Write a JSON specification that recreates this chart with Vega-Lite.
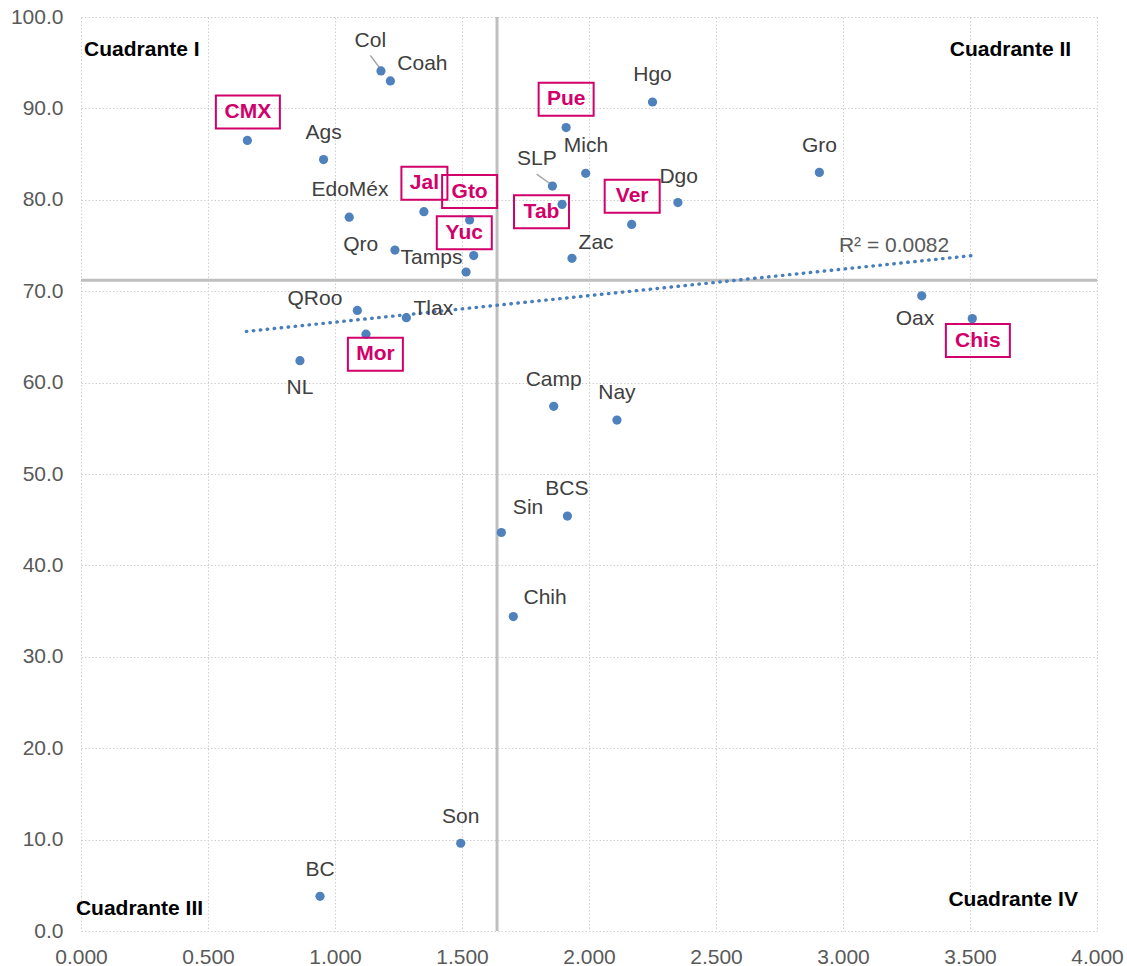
{
 "$schema": "https://vega.github.io/schema/vega-lite/v6.json",
 "width": 1016,
 "height": 914,
 "autosize": {"type": "none"},
 "padding": {"left": 81, "top": 17, "right": 30, "bottom": 35},
 "background": "white",
 "config": {
  "view": {"stroke": null},
  "font": "Liberation Sans",
  "axis": {"grid": true, "gridColor": "#CFCFCF", "gridDash": [1.5, 2], "gridWidth": 1, "domain": false, "ticks": false, "labelFont": "Liberation Sans", "labelFontSize": 21, "labelColor": "#595959", "title": null, "labelFlush": false, "labelOverlap": false, "labelBound": false}
 },
 "datasets": {
  "estados": [
   {"name": "CMX", "x": 0.655, "y": 86.5, "lx": 0.657, "ly": 89.6, "destacado": true},
   {"name": "Ags", "x": 0.955, "y": 84.4, "lx": 0.955, "ly": 87.3, "destacado": false},
   {"name": "Col", "x": 1.181, "y": 94.1, "lx": 1.139, "ly": 97.4, "destacado": false},
   {"name": "Coah", "x": 1.218, "y": 93.0, "lx": 1.344, "ly": 94.9, "destacado": false},
   {"name": "EdoMéx", "x": 1.056, "y": 78.1, "lx": 1.059, "ly": 81.1, "destacado": false},
   {"name": "Jal", "x": 1.350, "y": 78.7, "lx": 1.352, "ly": 81.8, "destacado": true},
   {"name": "Gto", "x": 1.530, "y": 77.8, "lx": 1.530, "ly": 80.9, "destacado": true},
   {"name": "Qro", "x": 1.236, "y": 74.5, "lx": 1.101, "ly": 75.1, "destacado": false},
   {"name": "Yuc", "x": 1.546, "y": 73.9, "lx": 1.509, "ly": 76.4, "destacado": true},
   {"name": "Tamps", "x": 1.516, "y": 72.1, "lx": 1.380, "ly": 73.6, "destacado": false},
   {"name": "QRoo", "x": 1.088, "y": 67.9, "lx": 0.921, "ly": 69.1, "destacado": false},
   {"name": "Tlax", "x": 1.281, "y": 67.1, "lx": 1.387, "ly": 68.1, "destacado": false},
   {"name": "Mor", "x": 1.122, "y": 65.3, "lx": 1.159, "ly": 63.1, "destacado": true},
   {"name": "NL", "x": 0.862, "y": 62.4, "lx": 0.862, "ly": 59.4, "destacado": false},
   {"name": "SLP", "x": 1.856, "y": 81.5, "lx": 1.795, "ly": 84.5, "destacado": false},
   {"name": "Pue", "x": 1.910, "y": 87.9, "lx": 1.910, "ly": 91.0, "destacado": true},
   {"name": "Hgo", "x": 2.250, "y": 90.7, "lx": 2.250, "ly": 93.6, "destacado": false},
   {"name": "Mich", "x": 1.987, "y": 82.9, "lx": 1.988, "ly": 85.9, "destacado": false},
   {"name": "Tab", "x": 1.894, "y": 79.5, "lx": 1.813, "ly": 78.7, "destacado": true},
   {"name": "Ver", "x": 2.168, "y": 77.3, "lx": 2.170, "ly": 80.4, "destacado": true},
   {"name": "Dgo", "x": 2.350, "y": 79.7, "lx": 2.353, "ly": 82.5, "destacado": false},
   {"name": "Zac", "x": 1.933, "y": 73.6, "lx": 2.028, "ly": 75.3, "destacado": false},
   {"name": "Gro", "x": 2.907, "y": 83.0, "lx": 2.907, "ly": 85.9, "destacado": false},
   {"name": "Oax", "x": 3.310, "y": 69.5, "lx": 3.283, "ly": 67.0, "destacado": false},
   {"name": "Chis", "x": 3.509, "y": 67.0, "lx": 3.531, "ly": 64.6, "destacado": true},
   {"name": "Camp", "x": 1.861, "y": 57.4, "lx": 1.861, "ly": 60.3, "destacado": false},
   {"name": "Nay", "x": 2.110, "y": 55.9, "lx": 2.110, "ly": 58.9, "destacado": false},
   {"name": "BCS", "x": 1.915, "y": 45.4, "lx": 1.913, "ly": 48.4, "destacado": false},
   {"name": "Sin", "x": 1.655, "y": 43.6, "lx": 1.760, "ly": 46.3, "destacado": false},
   {"name": "Chih", "x": 1.702, "y": 34.4, "lx": 1.827, "ly": 36.4, "destacado": false},
   {"name": "Son", "x": 1.495, "y": 9.6, "lx": 1.495, "ly": 12.5, "destacado": false},
   {"name": "BC", "x": 0.941, "y": 3.8, "lx": 0.941, "ly": 6.7, "destacado": false}
  ],
  "tendencia": [
   {"x": 0.651, "y": 65.6},
   {"x": 3.509, "y": 73.9}
  ],
  "guias": [
   {"name": "Col", "x": 1.139, "y": 95.8, "x2": 1.174, "y2": 94.5},
   {"name": "SLP", "x": 1.794, "y": 82.8, "x2": 1.850, "y2": 81.7}
  ],
  "cuadrantes_izq": [
   {"texto": "Cuadrante I", "x": 0.012, "y": 96.4},
   {"texto": "Cuadrante III", "x": -0.020, "y": 2.4}
  ],
  "cuadrantes_der": [
   {"texto": "Cuadrante II", "x": 3.898, "y": 96.4},
   {"texto": "Cuadrante IV", "x": 3.925, "y": 3.4}
  ],
  "r2": [
   {"texto": "R² = 0.0082", "x": 3.201, "y": 74.9}
  ],
  "divisiones": [
   {"xdiv": 1.638, "ydiv": 71.2}
  ]
 },
 "layer": [
  {
   "data": {"name": "divisiones"},
   "mark": {"type": "rule", "color": "#BFBFBF", "strokeWidth": 3},
   "encoding": {"x": {"field": "xdiv", "type": "quantitative"}}
  },
  {
   "data": {"name": "divisiones"},
   "mark": {"type": "rule", "color": "#BFBFBF", "strokeWidth": 3},
   "encoding": {"y": {"field": "ydiv", "type": "quantitative"}}
  },
  {
   "data": {"name": "tendencia"},
   "mark": {"type": "line", "color": "#4A7EBB", "strokeWidth": 3.4, "strokeDash": [0.5, 6.5], "strokeCap": "round"},
   "encoding": {
    "x": {"field": "x", "type": "quantitative"},
    "y": {"field": "y", "type": "quantitative"}
   }
  },
  {
   "data": {"name": "guias"},
   "mark": {"type": "rule", "color": "#A6A6A6", "strokeWidth": 1.5},
   "encoding": {
    "x": {"field": "x", "type": "quantitative"},
    "y": {"field": "y", "type": "quantitative"},
    "x2": {"field": "x2"},
    "y2": {"field": "y2"}
   }
  },
  {
   "data": {"name": "estados"},
   "mark": {"type": "circle", "color": "#4F81BD", "opacity": 1, "size": 85},
   "encoding": {
    "x": {"field": "x", "type": "quantitative", "scale": {"domain": [0, 4], "nice": false, "zero": false}, "axis": {"values": [0, 0.5, 1, 1.5, 2, 2.5, 3, 3.5, 4], "format": ".3f", "labelPadding": 15}},
    "y": {"field": "y", "type": "quantitative", "scale": {"domain": [0, 100], "nice": false, "zero": false}, "axis": {"values": [0, 10, 20, 30, 40, 50, 60, 70, 80, 90, 100], "format": ".1f", "labelPadding": 18}}
   }
  },
  {
   "data": {"name": "estados"},
   "transform": [{"filter": "!datum.destacado"}],
   "mark": {"type": "text", "fontSize": 21, "color": "#404040", "align": "center", "baseline": "middle"},
   "encoding": {
    "x": {"field": "lx", "type": "quantitative"},
    "y": {"field": "ly", "type": "quantitative"},
    "text": {"field": "name"}
   }
  },
  {
   "data": {"name": "estados"},
   "transform": [{"filter": "indexof(['CMX','Chis'], datum.name) >= 0"}],
   "mark": {"type": "point", "shape": "M-32,-16.5H32V16.5H-32Z", "size": 4, "filled": false, "stroke": "#D2006B", "strokeWidth": 2, "opacity": 1},
   "encoding": {
    "x": {"field": "lx", "type": "quantitative"},
    "y": {"field": "ly", "type": "quantitative"}
   }
  },
  {
   "data": {"name": "estados"},
   "transform": [{"filter": "indexof(['Gto','Yuc','Mor','Tab','Pue','Ver'], datum.name) >= 0"}],
   "mark": {"type": "point", "shape": "M-27.5,-16.5H27.5V16.5H-27.5Z", "size": 4, "filled": false, "stroke": "#D2006B", "strokeWidth": 2, "opacity": 1},
   "encoding": {
    "x": {"field": "lx", "type": "quantitative"},
    "y": {"field": "ly", "type": "quantitative"}
   }
  },
  {
   "data": {"name": "estados"},
   "transform": [{"filter": "datum.name == 'Jal'"}],
   "mark": {"type": "point", "shape": "M-23,-16.5H23V16.5H-23Z", "size": 4, "filled": false, "stroke": "#D2006B", "strokeWidth": 2, "opacity": 1},
   "encoding": {
    "x": {"field": "lx", "type": "quantitative"},
    "y": {"field": "ly", "type": "quantitative"}
   }
  },
  {
   "data": {"name": "estados"},
   "transform": [{"filter": "datum.destacado"}],
   "mark": {"type": "text", "fontSize": 21, "fontWeight": "bold", "color": "#D2006B", "align": "center", "baseline": "middle"},
   "encoding": {
    "x": {"field": "lx", "type": "quantitative"},
    "y": {"field": "ly", "type": "quantitative"},
    "text": {"field": "name"}
   }
  },
  {
   "data": {"name": "r2"},
   "mark": {"type": "text", "fontSize": 21, "color": "#595959", "align": "center", "baseline": "middle"},
   "encoding": {
    "x": {"field": "x", "type": "quantitative"},
    "y": {"field": "y", "type": "quantitative"},
    "text": {"field": "texto"}
   }
  },
  {
   "data": {"name": "cuadrantes_izq"},
   "mark": {"type": "text", "fontSize": 21, "fontWeight": "bold", "color": "#000000", "align": "left", "baseline": "middle"},
   "encoding": {
    "x": {"field": "x", "type": "quantitative"},
    "y": {"field": "y", "type": "quantitative"},
    "text": {"field": "texto"}
   }
  },
  {
   "data": {"name": "cuadrantes_der"},
   "mark": {"type": "text", "fontSize": 21, "fontWeight": "bold", "color": "#000000", "align": "right", "baseline": "middle"},
   "encoding": {
    "x": {"field": "x", "type": "quantitative"},
    "y": {"field": "y", "type": "quantitative"},
    "text": {"field": "texto"}
   }
  }
 ]
}
